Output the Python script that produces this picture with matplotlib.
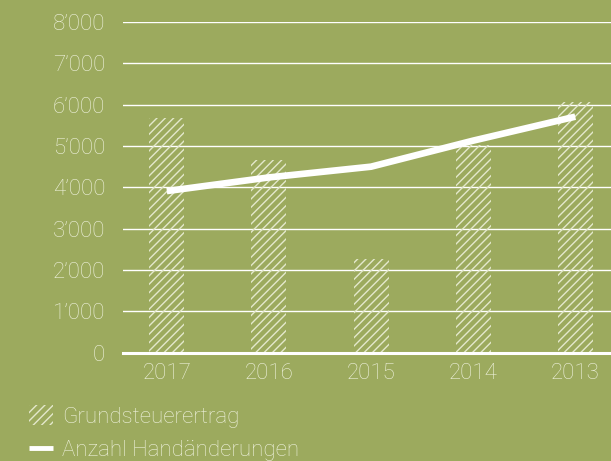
import matplotlib
matplotlib.use("Agg")
import matplotlib.pyplot as plt
from matplotlib.patches import Patch
from matplotlib.lines import Line2D
from matplotlib.ticker import FuncFormatter
import numpy as np

years = ["2017", "2016", "2015", "2014", "2013"]
grundsteuerertrag = [5670, 4660, 2265, 5020, 6070]
handaenderungen = [3910, 4240, 4500, 5130, 5710]
yticks = [0, 1000, 2000, 3000, 4000, 5000, 6000, 7000, 8000]

BG = "#9CAA5E"
TXT = "#EEF1DC"
HATCH = "#E4E8CC"
FS = 16

plt.rcParams['font.family'] = ['Roboto', 'DejaVu Sans']
plt.rcParams['font.weight'] = 'light'
plt.rcParams['hatch.linewidth'] = 1.0

fig = plt.figure(figsize=(6.11, 4.61), dpi=100, facecolor=BG)
ax = fig.add_axes([122.7/611, 1-352.7/461, 1-122.7/611, (352.7-22)/461])
ax.set_facecolor(BG)

x = np.arange(len(years))
ax.bar(x, grundsteuerertrag, width=0.343, facecolor="none", edgecolor=HATCH,
       linewidth=0, hatch="////", zorder=2)
ax.plot(x, handaenderungen, color="white", lw=4.8, solid_capstyle="butt",
        solid_joinstyle="miter", zorder=3)

ax.set_xlim(-0.432, 4.35)
ax.set_ylim(0, 8000)
ax.set_yticks(yticks)
ax.yaxis.set_major_formatter(FuncFormatter(
    lambda v, p: "0" if v == 0 else f"{int(v)//1000}\u2019{int(v)%1000:03d}"))
ax.set_xticks(x)
ax.set_xticklabels(years)
ax.grid(axis="y", color="white", lw=1.0, zorder=1)
ax.set_axisbelow(True)
for s in ["top", "right", "left"]:
    ax.spines[s].set_visible(False)
ax.spines["bottom"].set_color("white")
ax.spines["bottom"].set_linewidth(2.2)
ax.spines["bottom"].set_zorder(4)
ax.tick_params(axis="both", length=0, labelsize=FS, labelcolor=TXT)
ax.tick_params(axis="y", pad=12.5)
ax.tick_params(axis="x", pad=7.5)

handles = [Patch(facecolor="none", edgecolor=HATCH, linewidth=0, hatch="////"),
           Line2D([], [], color="white", lw=3.5, solid_capstyle="butt")]
leg = fig.legend(handles, ["Grundsteuerertrag", "Anzahl Handänderungen"],
                 loc="upper left", bbox_to_anchor=(29/611, 1-405/461),
                 frameon=False, fontsize=FS, labelcolor=TXT,
                 handlelength=1.08, handleheight=1.02, handletextpad=0.42,
                 labelspacing=0.5, borderpad=0, borderaxespad=0)

fig.savefig("out.png", dpi=100, facecolor=BG)
